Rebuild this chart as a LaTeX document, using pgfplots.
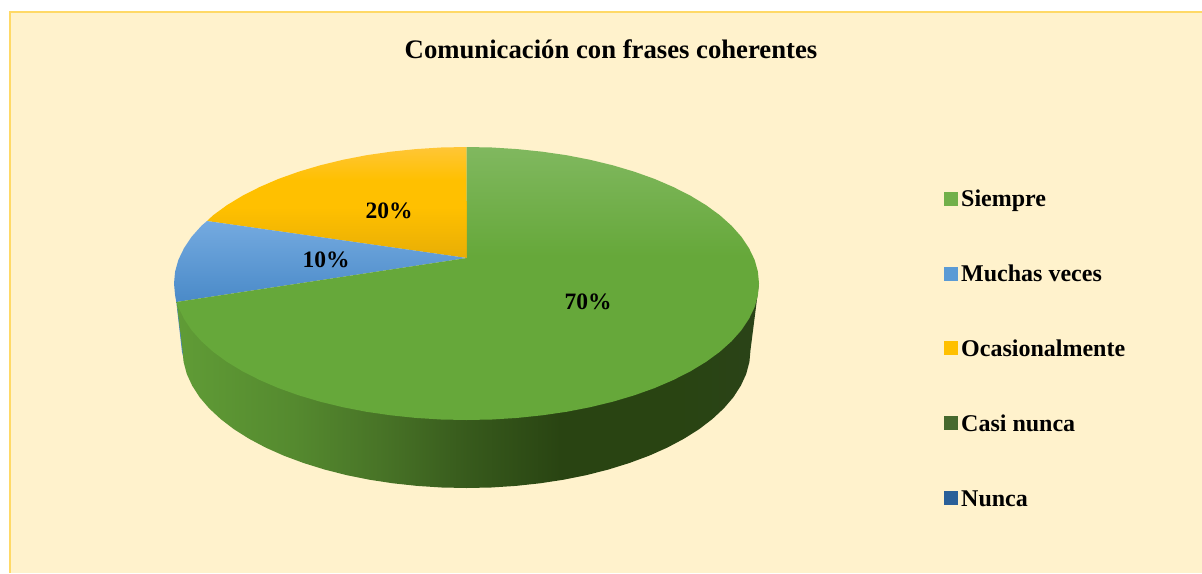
\documentclass[border=0pt]{standalone}
\usepackage{fontspec}
\setmainfont{Liberation Serif}
\usepackage{pgfplots}
\pgfplotsset{compat=1.18}
\definecolor{bgc}{HTML}{FFF2CC}
\definecolor{framec}{HTML}{FFD966}
\definecolor{s0}{HTML}{609C36}
\definecolor{s1}{HTML}{558A2F}
\definecolor{s2}{HTML}{477226}
\definecolor{s3}{HTML}{375A1C}
\definecolor{s4}{HTML}{294412}
\definecolor{s5}{HTML}{2A4318}
\definecolor{gt}{HTML}{80B85F}
\definecolor{gm}{HTML}{66A83A}
\definecolor{bt}{HTML}{74AAE0}
\definecolor{bm}{HTML}{5B9BD5}
\definecolor{bb}{HTML}{4A8AC8}
\definecolor{yt}{HTML}{FFC636}
\definecolor{ym}{HTML}{FFC000}
\definecolor{yb}{HTML}{E8AE05}
\definecolor{lg}{HTML}{72B04A}
\definecolor{lc}{HTML}{46692E}
\definecolor{ln}{HTML}{2A6099}
\pgfdeclarehorizontalshading{sidegradb}{100bp}{
 color(0bp)=(s0); color(25bp)=(s0); color(35bp)=(s1); color(43bp)=(s2); color(50bp)=(s3); color(58bp)=(s4); color(68bp)=(s4); color(75bp)=(s5); color(100bp)=(s5)}
\pgfdeclareverticalshading{greentop}{100bp}{
 color(0bp)=(gm); color(55bp)=(gm); color(75bp)=(gt); color(100bp)=(gt)}
\pgfdeclareverticalshading{yellowtop}{100bp}{
 color(0bp)=(yb); color(25bp)=(yb); color(48bp)=(ym); color(60bp)=(ym); color(75bp)=(yt); color(100bp)=(yt)}
\begin{document}
\begin{tikzpicture}
\begin{axis}[
  width=1202pt, height=573pt, scale only axis,
  xmin=0, xmax=1202, ymin=0, ymax=573, y dir=reverse,
  hide axis, clip=true,
]
% page
\addplot[draw=none, fill=white] coordinates {(0,0) (1202,0) (1202,573) (0,573)} --cycle;
% background and frame
\addplot[draw=none, fill=bgc] coordinates {(10,12) (1202,12) (1202,573) (10,573)} --cycle;
\addplot[framec, line width=2.2pt] coordinates {(10,573) (10,12) (1202,12)};
% thin blue side
\addplot[draw=none, fill=bb] coordinates {(176.3,302) (182,352) (184,360) (186,350)} --cycle;
% side of the Siempre slice
\addplot[draw=none, shade, shading=sidegradb] coordinates {
 (176.6,302) (182.5,350) (183.6,362) (186.8,374) (192.2,385.7) (199.6,397.2) (209.1,408.3) (220.6,419) (233.9,429.2) (249,438.7) (265.7,447.6) (283.9,455.7) (303.6,463) (324.5,469.5) (346.5,475.1) (369.4,479.7) (393,483.3) (417.2,485.9) (441.7,487.5) (466.5,488)
 (491.3,487.5) (515.8,485.9) (540,483.3) (563.6,479.7) (586.5,475.1) (608.5,469.5) (629.4,463) (649.1,455.7) (667.3,447.6) (684,438.7) (699.1,429.2) (712.4,419) (723.9,408.3) (733.4,397.2) (740.8,385.7) (746.2,374) (749.4,362) (750.5,350) (759,283.5)
} --cycle;
% yellow 20
\addplot[draw=none, shade, shading=yellowtop] coordinates {
 (467,258) (466.5,147) (441,147.5) (415.7,149.1) (390.8,151.7) (366.5,155.2) (342.9,159.8) (320.2,165.3) (298.7,171.7) (278.5,178.9) (259.7,187) (242.4,195.8) (226.9,205.2) (213.2,215.2) (207,221)
} --cycle;
% blue 10
\addplot[draw=none, top color=bt, middle color=bm, bottom color=bb] coordinates {
 (467,258) (207,221) (201.4,225.8) (191.6,236.8) (184,248.2) (178.4,259.8) (175.1,271.6) (174,283.5) (175.1,295.4) (176.3,302)
} --cycle;
% green 70
\addplot[draw=none, shade, shading=greentop] coordinates {
 (467,258) (176.3,302) (178.4,307.2) (184,318.8) (191.6,330.2) (201.4,341.2) (213.2,351.8) (226.9,361.8) (242.4,371.2) (259.7,380) (278.5,388.1) (298.7,395.3) (320.2,401.7) (342.9,407.2) (366.5,411.8) (390.8,415.3) (415.7,417.9) (441,419.5) (466.5,420)
 (492,419.5) (517.3,417.9) (542.2,415.3) (566.5,411.8) (590.1,407.2) (612.8,401.7) (634.3,395.3) (654.5,388.1) (673.3,380) (690.6,371.2) (706.1,361.8) (719.8,351.8) (731.6,341.2) (741.4,330.2) (749,318.8) (754.6,307.2) (757.9,295.4) (759,283.5)
 (757.9,271.6) (754.6,259.8) (749,248.2) (741.4,236.8) (731.6,225.8) (719.8,215.2) (706.1,205.2) (690.6,195.8) (673.3,187) (654.5,178.9) (634.3,171.7) (612.8,165.3) (590.1,159.8) (566.5,155.2) (542.2,151.7) (517.3,149.1) (492,147.5) (466.5,147)
} --cycle;
% legend markers
\addplot[only marks, mark=square*, mark size=6.5pt, mark options={draw=lg, line width=0pt, fill=lg}] coordinates {(950.5,199.3)};
\addplot[only marks, mark=square*, mark size=6.5pt, mark options={draw=bm, line width=0pt, fill=bm}] coordinates {(950.5,274.3)};
\addplot[only marks, mark=square*, mark size=6.5pt, mark options={draw=ym, line width=0pt, fill=ym}] coordinates {(950.5,348.3)};
\addplot[only marks, mark=square*, mark size=6.5pt, mark options={draw=lc, line width=0pt, fill=lc}] coordinates {(950.5,423.3)};
\addplot[only marks, mark=square*, mark size=6.5pt, mark options={draw=ln, line width=0pt, fill=ln}] coordinates {(950.5,498.3)};
% texts
\node[anchor=base, font=\fontsize{26.7}{30}\selectfont\bfseries] at (axis cs:611,58) {Comunicación con frases coherentes};
\foreach \y/\t in {206.7/Siempre, 281.7/Muchas veces, 356/Ocasionalmente, 431/Casi nunca, 506/Nunca}{
  \edef\temp{\noexpand\node[anchor=base west, inner sep=0pt, font=\noexpand\fontsize{24}{28}\noexpand\selectfont\noexpand\bfseries] at (axis cs:961,\y) {\t};}
  \temp
}
\node[font=\fontsize{23.5}{28}\selectfont\bfseries] at (axis cs:588,302) {70\%};
\node[font=\fontsize{23.5}{28}\selectfont\bfseries] at (axis cs:326,260) {10\%};
\node[font=\fontsize{23.5}{28}\selectfont\bfseries] at (axis cs:389,211) {20\%};
\end{axis}
\end{tikzpicture}
\end{document}
